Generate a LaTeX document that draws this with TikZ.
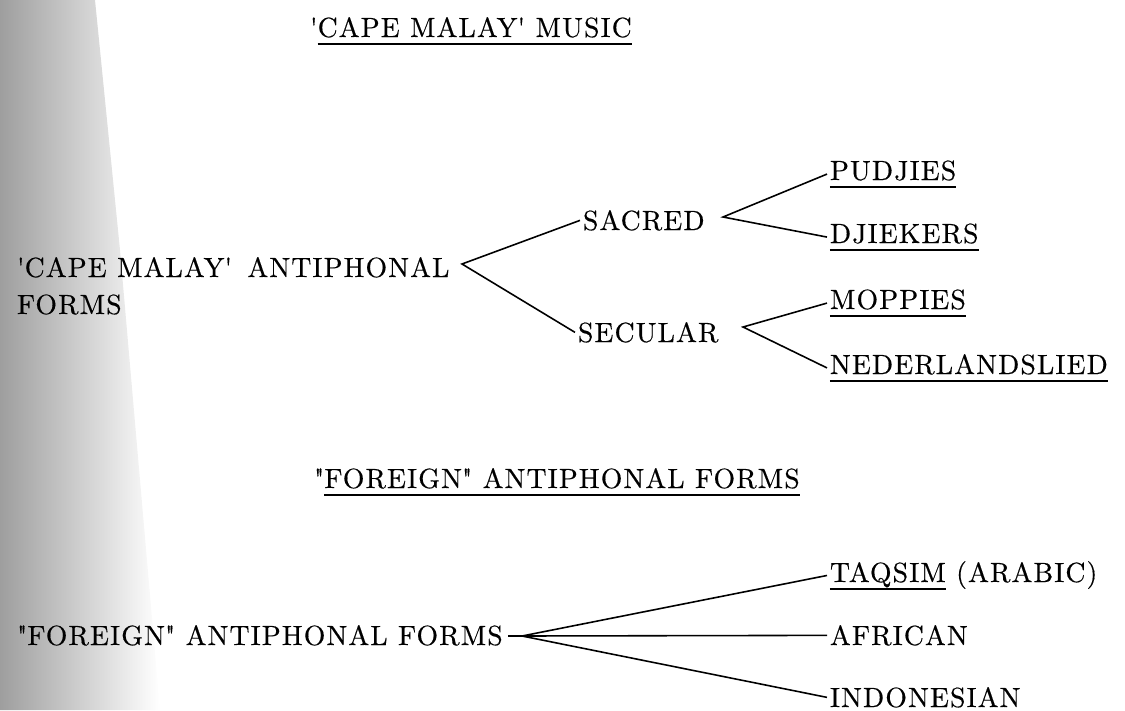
\documentclass[tikz,border=0pt]{standalone}
\usepackage{fontspec}
\usepackage{tikz}
\usetikzlibrary{calc}
\newfontfamily\fontvoce{lmroman10-regular.otf}[LetterSpace=4, FakeBold=0.4]
\newcommand{\sott}[1]{\setbox0\hbox{#1}\rlap{\rule[-4.4pt]{\wd0}{0.9pt}}\box0\relax}
\tikzset{
  voce/.style={anchor=base west, inner xsep=1.5pt, inner ysep=0pt,
    font=\fontvoce\fontsize{15.8}{20}\selectfont},
  ramo/.style={line width=0.9pt, line join=miter},
}

\begin{document}
\begin{tikzpicture}[x=0.02cm, y=-0.02cm]
    \useasboundingbox (0,0) rectangle (1125,710);
    % Bordo grigio della scansione
    \shade[left color=black!38, right color=white] (0,0) -- (95,0) -- (120,250) -- (160,710) -- (0,710) -- cycle;

    % Titoli
    \node[voce] (tit1) at (307,37) {\textquotesingle\sott{CAPE MALAY\textquotesingle\ MUSIC}};
    \node[voce] (tit2) at (311,488) {\textquotedbl\sott{FOREIGN\textquotedbl\ ANTIPHONAL FORMS}};

    % Forme antifonali 'Cape Malay'
    \node[voce] (antiph) at (14,277) {\textquotesingle CAPE MALAY\textquotesingle\hspace{0.55em}ANTIPHONAL};
    \node[voce] (forms) at (14,314) {FORMS};
    \node[voce] (sac) at (580,230) {SACRED};
    \node[voce] (sec) at (575,342) {SECULAR};
    \node[voce] (pud) at (827,180) {\sott{PUDJIES}};
    \node[voce] (dji) at (827,243) {\sott{DJIEKERS}};
    \node[voce] (mop) at (827,309) {\sott{MOPPIES}};
    \node[voce] (ned) at (827,374) {\sott{NEDERLANDSLIED}};

    \coordinate (A) at (462,264);
    \coordinate (B) at (723,217);
    \coordinate (C) at (743,327);

    \draw[ramo] (sac.west) -- (A) -- (sec.west);
    \draw[ramo] (pud.west) -- (B) -- (dji.west);
    \draw[ramo] (mop.west) -- (C) -- (ned.west);

    % Forme antifonali "foreign"
    \node[voce] (fle) at (14,645) {\textquotedbl FOREIGN\textquotedbl\ ANTIPHONAL FORMS};
    \node[voce] (taq) at (827,582) {\sott{TAQSIM} (ARABIC)};
    \node[voce] (afr) at (827,645) {AFRICAN};
    \node[voce] (ind) at (827,707) {INDONESIAN};

    \coordinate (Dd) at (508,636);
    \coordinate (D) at (522,636);

    \draw[ramo] (Dd) -- (D) -- (taq.west);
    \draw[ramo] (D) -- (afr.west);
    \draw[ramo] (D) -- (ind.west);
\end{tikzpicture}
\end{document}
